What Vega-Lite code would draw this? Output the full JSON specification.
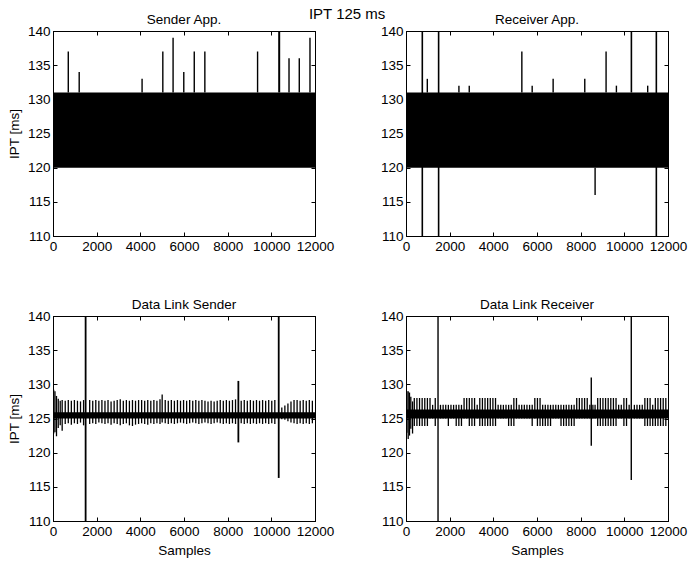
{
  "$schema": "https://vega.github.io/schema/vega-lite/v6.json",
  "padding": {"left": 6, "top": 7, "right": 5, "bottom": 2},
  "title": {"text": "IPT 125 ms", "fontSize": 15, "offset": -10, "anchor": "middle"},
  "datasets": {
    "bands": [
      {"panel": "SA", "x": 0, "x2": 12000, "y": 120, "y2": 131},
      {"panel": "RA", "x": 0, "x2": 12000, "y": 120, "y2": 131},
      {"panel": "DLS", "x": 0, "x2": 12000, "y": 125.0, "y2": 125.9},
      {"panel": "DLR", "x": 0, "x2": 12000, "y": 125.0, "y2": 126.3}
    ],
    "outliers": [
      {"panel": "SA", "x": 10360, "y": 131, "y2": 140},
      {"panel": "RA", "x": 747, "y": 110, "y2": 140},
      {"panel": "RA", "x": 1494, "y": 110, "y2": 140},
      {"panel": "RA", "x": 10323, "y": 131, "y2": 140},
      {"panel": "RA", "x": 11466, "y": 110, "y2": 140},
      {"panel": "DLS", "x": 1494, "y": 110, "y2": 140},
      {"panel": "DLS", "x": 8490, "y": 121.5, "y2": 130.5},
      {"panel": "DLS", "x": 10338, "y": 116.3, "y2": 140},
      {"panel": "DLR", "x": 1467, "y": 110, "y2": 140},
      {"panel": "DLR", "x": 8486, "y": 121, "y2": 131},
      {"panel": "DLR", "x": 10318, "y": 116, "y2": 140}
    ],
    "spikes": [
      {"panel": "SA", "x": 700, "y": 131, "y2": 137},
      {"panel": "SA", "x": 1200, "y": 131, "y2": 134},
      {"panel": "SA", "x": 4080, "y": 131, "y2": 133},
      {"panel": "SA", "x": 5030, "y": 131, "y2": 137},
      {"panel": "SA", "x": 5500, "y": 131, "y2": 139},
      {"panel": "SA", "x": 5990, "y": 131, "y2": 134},
      {"panel": "SA", "x": 6470, "y": 131, "y2": 137},
      {"panel": "SA", "x": 6955, "y": 131, "y2": 137},
      {"panel": "SA", "x": 9370, "y": 131, "y2": 137},
      {"panel": "SA", "x": 10810, "y": 131, "y2": 136},
      {"panel": "SA", "x": 11280, "y": 131, "y2": 136},
      {"panel": "SA", "x": 11770, "y": 131, "y2": 139},
      {"panel": "RA", "x": 976, "y": 131, "y2": 133},
      {"panel": "RA", "x": 2424, "y": 131, "y2": 132},
      {"panel": "RA", "x": 2897, "y": 131, "y2": 132},
      {"panel": "RA", "x": 5306, "y": 131, "y2": 137},
      {"panel": "RA", "x": 5779, "y": 131, "y2": 132},
      {"panel": "RA", "x": 6739, "y": 131, "y2": 133},
      {"panel": "RA", "x": 8188, "y": 131, "y2": 133},
      {"panel": "RA", "x": 8661, "y": 116, "y2": 120},
      {"panel": "RA", "x": 9164, "y": 131, "y2": 137},
      {"panel": "RA", "x": 9637, "y": 131, "y2": 132},
      {"panel": "RA", "x": 11070, "y": 131, "y2": 132},
      {"panel": "DLS", "x": 30, "y": 122.8, "y2": 129.2},
      {"panel": "DLS", "x": 90, "y": 123.0, "y2": 129.0},
      {"panel": "DLS", "x": 160, "y": 122.4, "y2": 128.3},
      {"panel": "DLS", "x": 240, "y": 123.6, "y2": 127.9},
      {"panel": "DLS", "x": 330, "y": 124.0, "y2": 127.6},
      {"panel": "DLS", "x": 420, "y": 123.2, "y2": 127.7},
      {"panel": "DLS", "x": 560, "y": 124.2, "y2": 127.6},
      {"panel": "DLS", "x": 700, "y": 124.3, "y2": 127.7},
      {"panel": "DLS", "x": 840, "y": 124.1, "y2": 127.6},
      {"panel": "DLS", "x": 980, "y": 124.3, "y2": 127.7},
      {"panel": "DLS", "x": 1120, "y": 124.2, "y2": 127.6},
      {"panel": "DLS", "x": 1260, "y": 124.4, "y2": 127.5},
      {"panel": "DLS", "x": 1400, "y": 124.0, "y2": 127.7},
      {"panel": "DLS", "x": 1680, "y": 124.2, "y2": 127.7},
      {"panel": "DLS", "x": 1820, "y": 124.3, "y2": 127.6},
      {"panel": "DLS", "x": 1960, "y": 124.2, "y2": 127.7},
      {"panel": "DLS", "x": 2100, "y": 124.4, "y2": 127.6},
      {"panel": "DLS", "x": 2240, "y": 124.3, "y2": 127.7},
      {"panel": "DLS", "x": 2380, "y": 124.2, "y2": 127.6},
      {"panel": "DLS", "x": 2520, "y": 124.3, "y2": 127.7},
      {"panel": "DLS", "x": 2660, "y": 124.1, "y2": 127.5},
      {"panel": "DLS", "x": 2800, "y": 124.3, "y2": 127.6},
      {"panel": "DLS", "x": 2940, "y": 124.2, "y2": 127.7},
      {"panel": "DLS", "x": 3080, "y": 124.0, "y2": 127.8},
      {"panel": "DLS", "x": 3220, "y": 124.2, "y2": 127.6},
      {"panel": "DLS", "x": 3360, "y": 124.3, "y2": 127.7},
      {"panel": "DLS", "x": 3500, "y": 124.0, "y2": 127.6},
      {"panel": "DLS", "x": 3640, "y": 123.9, "y2": 127.7},
      {"panel": "DLS", "x": 3780, "y": 124.1, "y2": 127.6},
      {"panel": "DLS", "x": 3920, "y": 124.2, "y2": 127.7},
      {"panel": "DLS", "x": 4060, "y": 124.3, "y2": 127.7},
      {"panel": "DLS", "x": 4200, "y": 124.2, "y2": 127.6},
      {"panel": "DLS", "x": 4340, "y": 124.1, "y2": 127.7},
      {"panel": "DLS", "x": 4480, "y": 124.3, "y2": 127.6},
      {"panel": "DLS", "x": 4620, "y": 124.2, "y2": 127.7},
      {"panel": "DLS", "x": 4760, "y": 124.3, "y2": 127.6},
      {"panel": "DLS", "x": 4900, "y": 124.2, "y2": 127.8},
      {"panel": "DLS", "x": 5000, "y": 124.4, "y2": 128.5},
      {"panel": "DLS", "x": 5140, "y": 124.3, "y2": 127.7},
      {"panel": "DLS", "x": 5280, "y": 124.2, "y2": 127.6},
      {"panel": "DLS", "x": 5420, "y": 124.3, "y2": 127.7},
      {"panel": "DLS", "x": 5560, "y": 124.2, "y2": 127.6},
      {"panel": "DLS", "x": 5700, "y": 124.3, "y2": 127.7},
      {"panel": "DLS", "x": 5840, "y": 124.4, "y2": 127.6},
      {"panel": "DLS", "x": 5980, "y": 124.3, "y2": 127.7},
      {"panel": "DLS", "x": 6120, "y": 124.2, "y2": 127.6},
      {"panel": "DLS", "x": 6260, "y": 124.3, "y2": 127.7},
      {"panel": "DLS", "x": 6400, "y": 124.4, "y2": 127.6},
      {"panel": "DLS", "x": 6540, "y": 124.3, "y2": 127.7},
      {"panel": "DLS", "x": 6680, "y": 124.2, "y2": 127.6},
      {"panel": "DLS", "x": 6820, "y": 124.3, "y2": 127.7},
      {"panel": "DLS", "x": 6960, "y": 124.4, "y2": 127.6},
      {"panel": "DLS", "x": 7100, "y": 124.3, "y2": 127.5},
      {"panel": "DLS", "x": 7240, "y": 124.2, "y2": 127.6},
      {"panel": "DLS", "x": 7380, "y": 124.3, "y2": 127.5},
      {"panel": "DLS", "x": 7520, "y": 124.4, "y2": 127.6},
      {"panel": "DLS", "x": 7660, "y": 124.3, "y2": 127.7},
      {"panel": "DLS", "x": 7800, "y": 124.2, "y2": 127.6},
      {"panel": "DLS", "x": 7940, "y": 124.3, "y2": 127.7},
      {"panel": "DLS", "x": 8080, "y": 124.2, "y2": 127.6},
      {"panel": "DLS", "x": 8220, "y": 124.3, "y2": 127.7},
      {"panel": "DLS", "x": 8360, "y": 124.2, "y2": 127.8},
      {"panel": "DLS", "x": 8620, "y": 124.3, "y2": 127.6},
      {"panel": "DLS", "x": 8760, "y": 124.2, "y2": 127.7},
      {"panel": "DLS", "x": 8900, "y": 124.3, "y2": 127.6},
      {"panel": "DLS", "x": 9040, "y": 124.2, "y2": 127.7},
      {"panel": "DLS", "x": 9180, "y": 124.3, "y2": 127.6},
      {"panel": "DLS", "x": 9320, "y": 124.2, "y2": 127.7},
      {"panel": "DLS", "x": 9460, "y": 124.3, "y2": 127.6},
      {"panel": "DLS", "x": 9600, "y": 124.2, "y2": 127.7},
      {"panel": "DLS", "x": 9740, "y": 124.3, "y2": 127.6},
      {"panel": "DLS", "x": 9880, "y": 124.2, "y2": 127.7},
      {"panel": "DLS", "x": 10020, "y": 124.3, "y2": 127.6},
      {"panel": "DLS", "x": 10160, "y": 124.2, "y2": 127.7},
      {"panel": "DLS", "x": 10480, "y": 124.9, "y2": 126.6},
      {"panel": "DLS", "x": 10620, "y": 124.8, "y2": 126.9},
      {"panel": "DLS", "x": 10760, "y": 124.6, "y2": 127.2},
      {"panel": "DLS", "x": 10900, "y": 124.4, "y2": 127.5},
      {"panel": "DLS", "x": 11040, "y": 124.3, "y2": 127.7},
      {"panel": "DLS", "x": 11180, "y": 124.2, "y2": 127.7},
      {"panel": "DLS", "x": 11320, "y": 124.3, "y2": 127.6},
      {"panel": "DLS", "x": 11460, "y": 124.2, "y2": 127.7},
      {"panel": "DLS", "x": 11600, "y": 124.3, "y2": 127.6},
      {"panel": "DLS", "x": 11740, "y": 124.2, "y2": 127.7},
      {"panel": "DLS", "x": 11880, "y": 124.3, "y2": 127.6},
      {"panel": "DLR", "x": 40, "y": 122.9, "y2": 129},
      {"panel": "DLR", "x": 100, "y": 122.0, "y2": 129},
      {"panel": "DLR", "x": 160, "y": 122.5, "y2": 128.8},
      {"panel": "DLR", "x": 220, "y": 123.5, "y2": 128.2},
      {"panel": "DLR", "x": 300, "y": 122.8, "y2": 127.5},
      {"panel": "DLR", "x": 380, "y": 123.9, "y2": 128},
      {"panel": "DLR", "x": 500, "y": 123.9, "y2": 128},
      {"panel": "DLR", "x": 620, "y": 123.9, "y2": 128},
      {"panel": "DLR", "x": 740, "y": 123.9, "y2": 128},
      {"panel": "DLR", "x": 860, "y": 123.9, "y2": 128},
      {"panel": "DLR", "x": 980, "y": 123.9, "y2": 128},
      {"panel": "DLR", "x": 1100, "y": 125, "y2": 128},
      {"panel": "DLR", "x": 1220, "y": 125, "y2": 127},
      {"panel": "DLR", "x": 1340, "y": 123.9, "y2": 128},
      {"panel": "DLR", "x": 1580, "y": 125, "y2": 127},
      {"panel": "DLR", "x": 1700, "y": 125, "y2": 127},
      {"panel": "DLR", "x": 1820, "y": 125, "y2": 127},
      {"panel": "DLR", "x": 1940, "y": 123.9, "y2": 127},
      {"panel": "DLR", "x": 2060, "y": 125, "y2": 127},
      {"panel": "DLR", "x": 2180, "y": 125, "y2": 127},
      {"panel": "DLR", "x": 2300, "y": 123.9, "y2": 127},
      {"panel": "DLR", "x": 2420, "y": 123.9, "y2": 127},
      {"panel": "DLR", "x": 2540, "y": 123.9, "y2": 127},
      {"panel": "DLR", "x": 2660, "y": 125, "y2": 128},
      {"panel": "DLR", "x": 2780, "y": 125, "y2": 128},
      {"panel": "DLR", "x": 2900, "y": 123.9, "y2": 128},
      {"panel": "DLR", "x": 3020, "y": 123.9, "y2": 128},
      {"panel": "DLR", "x": 3140, "y": 123.9, "y2": 128},
      {"panel": "DLR", "x": 3260, "y": 125, "y2": 127},
      {"panel": "DLR", "x": 3380, "y": 123.9, "y2": 128},
      {"panel": "DLR", "x": 3500, "y": 123.9, "y2": 128},
      {"panel": "DLR", "x": 3620, "y": 123.9, "y2": 128},
      {"panel": "DLR", "x": 3740, "y": 123.9, "y2": 128},
      {"panel": "DLR", "x": 3860, "y": 123.9, "y2": 128},
      {"panel": "DLR", "x": 3980, "y": 123.9, "y2": 128},
      {"panel": "DLR", "x": 4100, "y": 123.9, "y2": 128},
      {"panel": "DLR", "x": 4220, "y": 125, "y2": 127},
      {"panel": "DLR", "x": 4340, "y": 125, "y2": 127},
      {"panel": "DLR", "x": 4460, "y": 125, "y2": 127},
      {"panel": "DLR", "x": 4580, "y": 125, "y2": 127},
      {"panel": "DLR", "x": 4700, "y": 123.9, "y2": 127},
      {"panel": "DLR", "x": 4820, "y": 123.9, "y2": 127},
      {"panel": "DLR", "x": 4940, "y": 123.9, "y2": 128},
      {"panel": "DLR", "x": 5060, "y": 125, "y2": 128},
      {"panel": "DLR", "x": 5180, "y": 125, "y2": 127},
      {"panel": "DLR", "x": 5300, "y": 125, "y2": 127},
      {"panel": "DLR", "x": 5420, "y": 125, "y2": 127},
      {"panel": "DLR", "x": 5540, "y": 125, "y2": 127},
      {"panel": "DLR", "x": 5660, "y": 125, "y2": 127},
      {"panel": "DLR", "x": 5780, "y": 123.9, "y2": 127},
      {"panel": "DLR", "x": 5900, "y": 125, "y2": 128},
      {"panel": "DLR", "x": 6020, "y": 123.9, "y2": 128},
      {"panel": "DLR", "x": 6140, "y": 123.9, "y2": 128},
      {"panel": "DLR", "x": 6260, "y": 123.9, "y2": 127},
      {"panel": "DLR", "x": 6380, "y": 123.9, "y2": 127},
      {"panel": "DLR", "x": 6500, "y": 123.9, "y2": 127},
      {"panel": "DLR", "x": 6620, "y": 123.9, "y2": 127},
      {"panel": "DLR", "x": 6740, "y": 125, "y2": 127},
      {"panel": "DLR", "x": 6860, "y": 125, "y2": 127},
      {"panel": "DLR", "x": 6980, "y": 125, "y2": 127},
      {"panel": "DLR", "x": 7100, "y": 123.9, "y2": 127},
      {"panel": "DLR", "x": 7220, "y": 123.9, "y2": 127},
      {"panel": "DLR", "x": 7340, "y": 123.9, "y2": 127},
      {"panel": "DLR", "x": 7460, "y": 123.9, "y2": 127},
      {"panel": "DLR", "x": 7580, "y": 123.9, "y2": 127},
      {"panel": "DLR", "x": 7700, "y": 123.9, "y2": 127},
      {"panel": "DLR", "x": 7820, "y": 125, "y2": 128},
      {"panel": "DLR", "x": 7940, "y": 125, "y2": 128},
      {"panel": "DLR", "x": 8060, "y": 125, "y2": 128},
      {"panel": "DLR", "x": 8180, "y": 125, "y2": 128},
      {"panel": "DLR", "x": 8300, "y": 125, "y2": 128},
      {"panel": "DLR", "x": 8420, "y": 125, "y2": 127},
      {"panel": "DLR", "x": 8560, "y": 125, "y2": 127},
      {"panel": "DLR", "x": 8660, "y": 125, "y2": 127},
      {"panel": "DLR", "x": 8780, "y": 123.9, "y2": 128},
      {"panel": "DLR", "x": 8900, "y": 123.9, "y2": 128},
      {"panel": "DLR", "x": 9020, "y": 123.9, "y2": 128},
      {"panel": "DLR", "x": 9140, "y": 123.9, "y2": 128},
      {"panel": "DLR", "x": 9260, "y": 123.9, "y2": 128},
      {"panel": "DLR", "x": 9380, "y": 123.9, "y2": 128},
      {"panel": "DLR", "x": 9500, "y": 123.9, "y2": 128},
      {"panel": "DLR", "x": 9620, "y": 123.9, "y2": 128},
      {"panel": "DLR", "x": 9740, "y": 125, "y2": 127},
      {"panel": "DLR", "x": 9860, "y": 125, "y2": 127},
      {"panel": "DLR", "x": 9980, "y": 123.9, "y2": 128},
      {"panel": "DLR", "x": 10100, "y": 123.9, "y2": 128},
      {"panel": "DLR", "x": 10220, "y": 125, "y2": 127},
      {"panel": "DLR", "x": 10460, "y": 125, "y2": 127},
      {"panel": "DLR", "x": 10580, "y": 125, "y2": 127},
      {"panel": "DLR", "x": 10700, "y": 125, "y2": 127},
      {"panel": "DLR", "x": 10820, "y": 125, "y2": 127},
      {"panel": "DLR", "x": 10940, "y": 123.9, "y2": 128},
      {"panel": "DLR", "x": 11060, "y": 123.9, "y2": 128},
      {"panel": "DLR", "x": 11180, "y": 123.9, "y2": 128},
      {"panel": "DLR", "x": 11300, "y": 123.9, "y2": 127},
      {"panel": "DLR", "x": 11420, "y": 123.9, "y2": 128},
      {"panel": "DLR", "x": 11540, "y": 123.9, "y2": 128},
      {"panel": "DLR", "x": 11660, "y": 123.9, "y2": 128},
      {"panel": "DLR", "x": 11780, "y": 123.9, "y2": 128},
      {"panel": "DLR", "x": 11900, "y": 123.9, "y2": 128}
    ]
  },
  "spacing": 44,
  "vconcat": [
    {
      "spacing": 44,
      "hconcat": [
        {
          "title": "Sender App.",
          "width": 262, "height": 205,
          "layer": [
            {"data": {"name": "bands"}, "transform": [{"filter": "datum.panel === 'SA'"}],
             "mark": {"type": "rect", "color": "black"},
             "encoding": {
               "x": {"field": "x", "type": "quantitative", "scale": {"domain": [0, 12000], "nice": false, "zero": false}, "axis": {"orient": "bottom", "title": null, "format": "d", "values": [0, 2000, 4000, 6000, 8000, 10000, 12000]}},
               "x2": {"field": "x2"},
               "y": {"field": "y", "type": "quantitative", "scale": {"domain": [110, 140], "nice": false, "zero": false}, "axis": {"orient": "left", "title": "IPT [ms]", "format": "d", "values": [110, 115, 120, 125, 130, 135, 140]}},
               "y2": {"field": "y2"}}},
            {"data": {"name": "spikes"}, "transform": [{"filter": "datum.panel === 'SA'"}],
             "mark": {"type": "rule", "color": "black", "strokeWidth": 1.4},
             "encoding": {
               "x": {"field": "x", "type": "quantitative", "axis": {"orient": "top", "title": null, "labels": false, "values": [0, 2000, 4000, 6000, 8000, 10000, 12000]}},
               "y": {"field": "y", "type": "quantitative", "axis": {"orient": "right", "title": null, "labels": false, "values": [110, 115, 120, 125, 130, 135, 140]}},
               "y2": {"field": "y2"}}},
            {"data": {"name": "outliers"}, "transform": [{"filter": "datum.panel === 'SA'"}],
             "mark": {"type": "rule", "color": "black", "strokeWidth": 2},
             "encoding": {
               "x": {"field": "x", "type": "quantitative", "axis": null},
               "y": {"field": "y", "type": "quantitative", "axis": null},
               "y2": {"field": "y2"}}}
          ]
        },
        {
          "title": "Receiver App.",
          "width": 262, "height": 205,
          "layer": [
            {"data": {"name": "bands"}, "transform": [{"filter": "datum.panel === 'RA'"}],
             "mark": {"type": "rect", "color": "black"},
             "encoding": {
               "x": {"field": "x", "type": "quantitative", "scale": {"domain": [0, 12000], "nice": false, "zero": false}, "axis": {"orient": "bottom", "title": null, "format": "d", "values": [0, 2000, 4000, 6000, 8000, 10000, 12000]}},
               "x2": {"field": "x2"},
               "y": {"field": "y", "type": "quantitative", "scale": {"domain": [110, 140], "nice": false, "zero": false}, "axis": {"orient": "left", "title": null, "format": "d", "values": [110, 115, 120, 125, 130, 135, 140]}},
               "y2": {"field": "y2"}}},
            {"data": {"name": "spikes"}, "transform": [{"filter": "datum.panel === 'RA'"}],
             "mark": {"type": "rule", "color": "black", "strokeWidth": 1.4},
             "encoding": {
               "x": {"field": "x", "type": "quantitative", "axis": {"orient": "top", "title": null, "labels": false, "values": [0, 2000, 4000, 6000, 8000, 10000, 12000]}},
               "y": {"field": "y", "type": "quantitative", "axis": {"orient": "right", "title": null, "labels": false, "values": [110, 115, 120, 125, 130, 135, 140]}},
               "y2": {"field": "y2"}}},
            {"data": {"name": "outliers"}, "transform": [{"filter": "datum.panel === 'RA'"}],
             "mark": {"type": "rule", "color": "black", "strokeWidth": 1.6},
             "encoding": {
               "x": {"field": "x", "type": "quantitative", "axis": null},
               "y": {"field": "y", "type": "quantitative", "axis": null},
               "y2": {"field": "y2"}}}
          ]
        }
      ]
    },
    {
      "spacing": 44,
      "hconcat": [
        {
          "title": "Data Link Sender",
          "width": 262, "height": 205,
          "layer": [
            {"data": {"name": "bands"}, "transform": [{"filter": "datum.panel === 'DLS'"}],
             "mark": {"type": "rect", "color": "black"},
             "encoding": {
               "x": {"field": "x", "type": "quantitative", "scale": {"domain": [0, 12000], "nice": false, "zero": false}, "axis": {"orient": "bottom", "title": "Samples", "format": "d", "values": [0, 2000, 4000, 6000, 8000, 10000, 12000]}},
               "x2": {"field": "x2"},
               "y": {"field": "y", "type": "quantitative", "scale": {"domain": [110, 140], "nice": false, "zero": false}, "axis": {"orient": "left", "title": "IPT [ms]", "format": "d", "values": [110, 115, 120, 125, 130, 135, 140]}},
               "y2": {"field": "y2"}}},
            {"data": {"name": "spikes"}, "transform": [{"filter": "datum.panel === 'DLS'"}],
             "mark": {"type": "rule", "color": "black", "strokeWidth": 1.3},
             "encoding": {
               "x": {"field": "x", "type": "quantitative", "axis": {"orient": "top", "title": null, "labels": false, "values": [0, 2000, 4000, 6000, 8000, 10000, 12000]}},
               "y": {"field": "y", "type": "quantitative", "axis": {"orient": "right", "title": null, "labels": false, "values": [110, 115, 120, 125, 130, 135, 140]}},
               "y2": {"field": "y2"}}},
            {"data": {"name": "outliers"}, "transform": [{"filter": "datum.panel === 'DLS'"}],
             "mark": {"type": "rule", "color": "black", "strokeWidth": 1.8},
             "encoding": {
               "x": {"field": "x", "type": "quantitative", "axis": null},
               "y": {"field": "y", "type": "quantitative", "axis": null},
               "y2": {"field": "y2"}}}
          ]
        },
        {
          "title": "Data Link Receiver",
          "width": 262, "height": 205,
          "layer": [
            {"data": {"name": "bands"}, "transform": [{"filter": "datum.panel === 'DLR'"}],
             "mark": {"type": "rect", "color": "black"},
             "encoding": {
               "x": {"field": "x", "type": "quantitative", "scale": {"domain": [0, 12000], "nice": false, "zero": false}, "axis": {"orient": "bottom", "title": "Samples", "format": "d", "values": [0, 2000, 4000, 6000, 8000, 10000, 12000]}},
               "x2": {"field": "x2"},
               "y": {"field": "y", "type": "quantitative", "scale": {"domain": [110, 140], "nice": false, "zero": false}, "axis": {"orient": "left", "title": null, "format": "d", "values": [110, 115, 120, 125, 130, 135, 140]}},
               "y2": {"field": "y2"}}},
            {"data": {"name": "spikes"}, "transform": [{"filter": "datum.panel === 'DLR'"}],
             "mark": {"type": "rule", "color": "black", "strokeWidth": 1.3},
             "encoding": {
               "x": {"field": "x", "type": "quantitative", "axis": {"orient": "top", "title": null, "labels": false, "values": [0, 2000, 4000, 6000, 8000, 10000, 12000]}},
               "y": {"field": "y", "type": "quantitative", "axis": {"orient": "right", "title": null, "labels": false, "values": [110, 115, 120, 125, 130, 135, 140]}},
               "y2": {"field": "y2"}}},
            {"data": {"name": "outliers"}, "transform": [{"filter": "datum.panel === 'DLR'"}],
             "mark": {"type": "rule", "color": "black", "strokeWidth": 1.4},
             "encoding": {
               "x": {"field": "x", "type": "quantitative", "axis": null},
               "y": {"field": "y", "type": "quantitative", "axis": null},
               "y2": {"field": "y2"}}}
          ]
        }
      ]
    }
  ],
  "config": {
    "font": "Liberation Sans",
    "background": "white",
    "view": {"stroke": "black", "strokeWidth": 1},
    "axis": {
      "grid": false, "domainColor": "black", "domainWidth": 1, "tickColor": "black", "tickSize": -4, "tickWidth": 1,
      "labelPadding": 7, "labelFontSize": 13.5, "labelColor": "black", "labelFont": "Liberation Sans",
      "labelFlush": false, "labelOverlap": false,
      "titleFontSize": 13.5, "titleFontWeight": "normal", "titleColor": "black", "titleFont": "Liberation Sans", "titlePadding": 6
    },
    "title": {"fontSize": 13.5, "fontWeight": "normal", "font": "Liberation Sans", "color": "black", "offset": -2}
  }
}
